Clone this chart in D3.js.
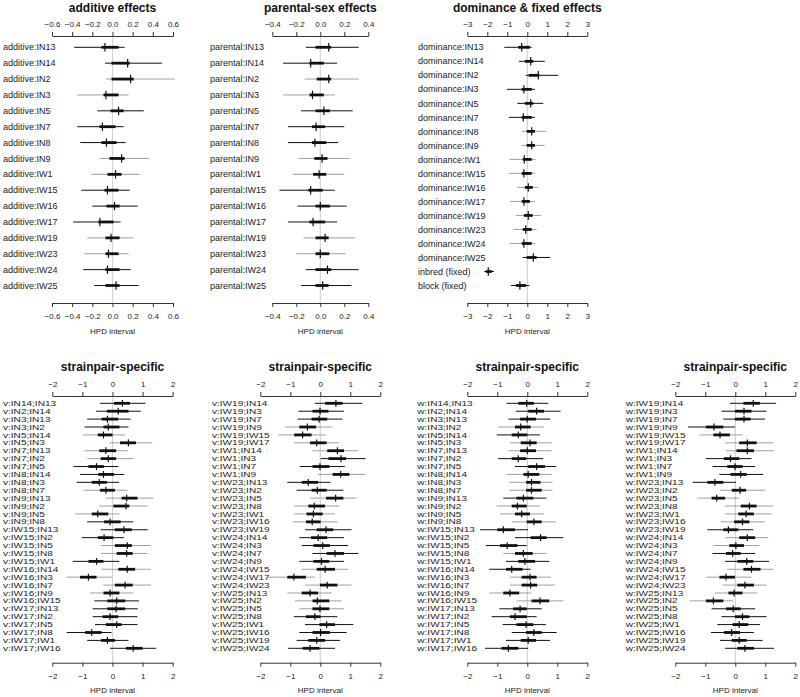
<!DOCTYPE html>
<html><head><meta charset="utf-8">
<script src="https://cdn.jsdelivr.net/npm/d3@7"></script>
<style>
html,body{margin:0;padding:0;background:#fff;}
svg{display:block;font-family:"Liberation Sans",Arial,sans-serif;}
</style></head>
<body><svg id="c" width="800" height="697"></svg>
<script>
// ---------------- DATA ----------------
// each row: [lower 95%, lower 50%, median, upper 50%, upper 95%]
const strains = ["IN13","IN14","IN2","IN3","IN5","IN7","IN8","IN9","IW1","IW15","IW16","IW17","IW19","IW23","IW24","IW25"];

const additiveRows = [
  [-0.38,-0.11,-0.075,0.06,0.12],[-0.075,-0.01,0.15,0.17,0.49],[-0.065,-0.01,0.18,0.21,0.62],
  [-0.35,-0.09,-0.065,0.06,0.16],[-0.15,-0.02,0.06,0.11,0.31],[-0.35,-0.13,-0.10,0.03,0.11],
  [-0.32,-0.11,-0.06,0.04,0.13],[-0.13,-0.03,0.09,0.12,0.36],[-0.21,-0.05,0.03,0.09,0.27],
  [-0.31,-0.08,-0.05,0.06,0.17],[-0.20,-0.06,0.02,0.07,0.25],[-0.39,-0.14,-0.125,0.01,0.08],
  [-0.25,-0.07,-0.015,0.07,0.21],[-0.28,-0.07,-0.04,0.06,0.16],[-0.29,-0.07,-0.05,0.07,0.18],
  [-0.18,-0.07,0.035,0.07,0.26]];
const additiveGrey = [0,0,1,1,0,0,0,1,1,0,0,0,1,1,0,0];

const parentalRows = [
  [-0.12,-0.04,0.07,0.09,0.32],[-0.31,-0.09,-0.08,0.03,0.14],[-0.13,-0.03,0.07,0.09,0.32],
  [-0.31,-0.09,-0.065,0.03,0.12],[-0.16,-0.04,0.03,0.08,0.27],[-0.27,-0.07,-0.035,0.04,0.20],
  [-0.27,-0.07,-0.045,0.05,0.15],[-0.18,-0.05,0.015,0.06,0.25],[-0.23,-0.06,-0.01,0.05,0.20],
  [-0.34,-0.10,-0.08,0.02,0.12],[-0.19,-0.04,0.0,0.08,0.22],[-0.27,-0.09,-0.06,0.04,0.14],
  [-0.14,-0.04,0.04,0.07,0.29],[-0.20,-0.04,0.0,0.075,0.21],[-0.12,-0.04,0.06,0.09,0.32],
  [-0.16,-0.04,0.02,0.07,0.26]];
const parentalGrey = [0,0,1,1,0,0,0,1,1,0,0,0,1,1,0,0];

const dominanceNames = strains.map(s => "dominance:" + s).concat(["inbred (fixed)","block (fixed)"]);
const dominanceRows = [
  [-1.15,-0.45,-0.28,0.13,0.22],[-0.42,-0.12,0.17,0.30,0.87],[-0.08,0.07,0.55,0.60,1.55],
  [-1.02,-0.28,-0.17,0.22,0.38],[-0.50,-0.12,0.17,0.30,0.80],[-0.92,-0.28,-0.20,0.22,0.38],
  [-0.28,-0.03,0.22,0.38,0.92],[-0.28,-0.03,0.22,0.38,0.87],[-0.90,-0.23,-0.15,0.22,0.42],
  [-0.92,-0.28,-0.17,0.22,0.38],[-0.50,-0.12,0.05,0.27,0.52],[-0.87,-0.28,-0.17,0.13,0.38],
  [-0.58,-0.17,0.05,0.27,0.68],[-0.70,-0.23,-0.08,0.22,0.47],[-0.87,-0.28,-0.17,0.22,0.40],
  [-0.23,-0.03,0.30,0.47,1.13],[-2.15,-2.07,-1.95,-1.78,-1.67],[-0.82,-0.57,-0.37,-0.07,0.10]];
const dominanceGrey = [0,0,0,0,0,0,1,1,1,1,1,1,1,1,1,0,0,0];

const pairsA = ["IN14;IN13","IN2;IN14","IN3;IN13","IN3;IN2","IN5;IN14","IN5;IN3","IN7;IN13","IN7;IN2",
  "IN7;IN5","IN8;IN14","IN8;IN3","IN8;IN7","IN9;IN13","IN9;IN2","IN9;IN5","IN9;IN8",
  "IW15;IN13","IW15;IN2","IW15;IN5","IW15;IN8","IW15;IW1","IW16;IN14","IW16;IN3","IW16;IN7",
  "IW16;IN9","IW16;IW15","IW17;IN13","IW17;IN2","IW17;IN5","IW17;IN8","IW17;IW1","IW17;IW16"];
const pairsB = ["IW19;IN14","IW19;IN3","IW19;IN7","IW19;IN9","IW19;IW15","IW19;IW17","IW1;IN14","IW1;IN3",
  "IW1;IN7","IW1;IN9","IW23;IN13","IW23;IN2","IW23;IN5","IW23;IN8","IW23;IW1","IW23;IW16",
  "IW23;IW19","IW24;IN14","IW24;IN3","IW24;IN7","IW24;IN9","IW24;IW15","IW24;IW17","IW24;IW23",
  "IW25;IN13","IW25;IN2","IW25;IN5","IW25;IN8","IW25;IW1","IW25;IW16","IW25;IW19","IW25;IW24"];

const vARows = [
  [-0.42,0.05,0.33,0.58,1.10],[-0.55,-0.19,0.19,0.53,0.94],[-0.84,-0.36,-0.17,0.19,0.60],[-0.93,-0.30,-0.14,0.23,0.53],
  [-0.99,-0.49,-0.30,0.0,0.42],[-0.10,0.25,0.53,0.78,1.32],[-0.93,-0.44,-0.22,0.12,0.50],[-0.84,-0.39,-0.14,0.12,0.69],
  [-1.30,-0.80,-0.53,-0.28,0.20],[-1.08,-0.47,-0.30,0.05,0.39],[-1.19,-0.69,-0.44,-0.19,0.22],[-0.97,-0.42,-0.22,0.08,0.50],
  [-0.22,0.30,0.47,0.83,1.36],[-0.44,0.03,0.45,0.56,1.17],[-1.25,-0.69,-0.49,-0.14,0.23],[-0.84,-0.28,-0.08,0.27,0.69],
  [-0.39,0.08,0.38,0.64,1.17],[-1.02,-0.49,-0.28,0.03,0.38],[-0.38,0.08,0.49,0.64,1.27],[-0.38,0.14,0.47,0.67,1.16],
  [-1.32,-0.80,-0.53,-0.30,0.22],[-0.36,0.19,0.49,0.75,1.27],[-1.52,-1.08,-0.80,-0.53,-0.03],[-0.30,0.08,0.42,0.67,1.28],
  [-0.75,-0.30,-0.08,0.23,0.69],[-0.60,-0.17,0.14,0.42,0.88],[-0.66,-0.17,0.12,0.42,0.84],[-0.66,-0.33,-0.08,0.19,0.83],
  [-0.58,-0.22,0.14,0.30,0.83],[-1.52,-0.91,-0.69,-0.36,-0.03],[-0.84,-0.38,-0.17,0.08,0.53],[-0.08,0.45,0.69,1.00,1.45]];
const vAGrey = [0,0,0,0,1,1,1,1,0,0,0,1,1,1,1,0,0,0,1,1,0,1,1,1,1,0,0,0,0,0,0,0];

const vBRows = [
  [-0.18,0.16,0.52,0.74,1.40],[-0.73,-0.26,-0.01,0.27,0.79],[-0.76,-0.29,-0.04,0.23,0.74],[-1.18,-0.70,-0.43,-0.14,0.38],
  [-1.40,-0.87,-0.59,-0.29,0.19],[-0.88,-0.34,-0.12,0.21,0.63],[-0.26,0.23,0.57,0.79,1.27],[0.01,0.27,0.69,0.86,1.51],
  [-0.68,-0.26,-0.01,0.30,0.82],[-0.07,0.41,0.68,0.97,1.49],[-1.10,-0.62,-0.40,-0.07,0.34],[-0.79,-0.29,-0.10,0.21,0.77],
  [-0.34,0.19,0.51,0.77,1.21],[-0.88,-0.40,-0.20,0.16,0.63],[-0.88,-0.46,-0.23,0.08,0.49],[-0.92,-0.48,-0.27,0.01,0.57],
  [-0.51,-0.12,0.19,0.43,1.04],[-0.70,-0.31,-0.07,0.23,0.79],[-0.62,-0.23,0.08,0.32,0.93],[-0.26,0.21,0.49,0.79,1.27],
  [-0.70,-0.23,0.04,0.30,0.79],[-0.62,-0.12,0.16,0.49,0.93],[-1.73,-1.10,-0.88,-0.48,-0.18],[-0.51,-0.01,0.23,0.57,1.04],
  [-1.10,-0.62,-0.34,-0.07,0.38],[-0.84,-0.26,-0.10,0.30,0.71],[-0.70,-0.26,-0.01,0.30,0.79],[-0.88,-0.48,-0.18,0.01,0.57],
  [-0.51,-0.03,0.21,0.49,1.10],[-0.70,-0.26,0.01,0.32,0.88],[-0.79,-0.40,-0.12,0.16,0.66],[-1.07,-0.59,-0.34,-0.03,0.49]];
const vBGrey = [0,0,0,1,1,1,1,0,0,1,0,0,1,1,1,1,0,0,0,0,0,1,1,1,1,1,1,0,0,0,0,0];

const wARows = [
  [-0.69,-0.30,-0.02,0.22,0.70],[-0.38,0.03,0.31,0.56,1.11],[-0.63,-0.24,0.0,0.29,0.76],[-0.97,-0.41,-0.22,0.11,0.56],
  [-1.02,-0.52,-0.30,0.0,0.42],[-0.58,-0.22,0.09,0.31,0.81],[-0.63,-0.24,0.0,0.29,0.81],[-0.97,-0.52,-0.30,-0.04,0.53],
  [-0.41,0.03,0.31,0.59,0.96],[-0.69,-0.13,0.03,0.40,0.81],[-0.60,-0.04,0.14,0.44,0.84],[-0.60,-0.04,0.14,0.48,0.84],
  [-0.80,-0.36,-0.13,0.20,0.64],[-1.02,-0.52,-0.33,-0.02,0.42],[-0.91,-0.41,-0.19,0.09,0.56],[-0.52,-0.02,0.22,0.48,0.96],
  [-1.58,-1.00,-0.80,-0.41,0.03],[-0.41,0.11,0.44,0.64,1.20],[-1.38,-0.91,-0.67,-0.33,-0.02],[-0.80,-0.41,-0.13,0.18,0.64],
  [-0.71,-0.30,-0.08,0.26,0.73],[-1.27,-0.71,-0.52,-0.16,0.11],[-0.58,-0.19,0.09,0.31,0.78],[-0.58,-0.19,0.11,0.33,0.92],
  [-1.27,-0.80,-0.58,-0.27,0.14],[-0.36,0.14,0.42,0.73,1.20],[-0.93,-0.47,-0.24,-0.02,0.48],[-1.19,-0.58,-0.41,-0.02,0.31],
  [-0.82,-0.36,-0.04,0.20,0.62],[-0.52,-0.04,0.22,0.48,0.98],[-0.71,-0.22,0.03,0.29,0.76],[-1.41,-0.86,-0.63,-0.30,0.03]];
const wAGrey = [0,0,0,1,0,1,1,0,0,1,1,1,0,1,1,1,0,0,0,1,0,0,1,1,1,1,0,0,0,0,0,0];

const wBRows = [
  [-0.18,0.27,0.60,0.82,1.36],[-0.46,-0.01,0.29,0.54,1.04],[-0.40,-0.01,0.29,0.51,0.99],[-1.57,-0.98,-0.71,-0.40,-0.01],
  [-1.20,-0.73,-0.51,-0.18,0.24],[-0.34,0.13,0.40,0.71,1.27],[-0.31,0.04,0.40,0.62,1.29],[-0.98,-0.38,-0.16,0.13,0.54],
  [-0.76,-0.27,-0.01,0.24,0.66],[-0.53,-0.16,0.18,0.38,0.93],[-1.42,-0.93,-0.68,-0.40,0.02],[-0.51,-0.12,0.16,0.36,0.99],
  [-1.27,-0.79,-0.62,-0.34,0.13],[-0.34,0.18,0.47,0.71,1.27],[-0.34,0.10,0.36,0.62,1.21],[-0.49,-0.04,0.24,0.47,0.99],
  [-0.93,-0.40,-0.23,0.10,0.60],[-0.34,0.13,0.40,0.66,1.10],[-0.73,-0.20,0.02,0.29,0.80],[-0.76,-0.31,-0.09,0.18,0.66],
  [-0.34,0.07,0.38,0.60,1.13],[-0.27,0.27,0.54,0.84,1.27],[-0.96,-0.53,-0.31,-0.01,0.54],[-0.42,0.07,0.32,0.62,1.04],
  [-0.68,-0.23,-0.04,0.24,0.73],[-1.53,-0.98,-0.73,-0.40,-0.07],[-0.79,-0.31,-0.07,0.18,0.66],[-0.46,-0.01,0.24,0.47,1.04],
  [-0.60,-0.09,0.13,0.43,0.82],[-0.81,-0.38,-0.12,0.16,0.62],[-0.51,-0.12,0.13,0.38,0.91],[-0.34,0.07,0.32,0.62,1.29]];
const wBGrey = [0,0,0,0,1,1,1,0,0,0,0,1,1,1,1,1,0,1,1,0,0,1,1,1,1,1,0,0,0,0,0,0];

const ticksAdd = [-0.6,-0.4,-0.2,0,0.2,0.4,0.6];
const ticksPar = [-0.4,-0.2,0,0.2,0.4];
const ticksDom = [-3,-2,-1,0,1,2,3];
const ticksPair = [-2,-1,0,1,2];

// ---------------- DRAW ----------------
const svg = d3.select("#c");
const FONT = "'Liberation Sans', Arial, sans-serif";
const GREY = "#a0a0a0";

const topRow = {axTop:36, axBot:303, yr:[47.3,285.5], titleY:12, hpdY:334, lblFont:9, lblScale:1, tickH:4.2, padTop:5.5, padBot:6.3};
const botRow = {axTop:396, axBot:662.7, yr:[403.3,648.3], titleY:370.5, hpdY:693, lblFont:7.4, lblScale:1.36, tickH:3.4, padTop:5.5, padBot:6.3};

function panel(o, L) {
  const g = svg.append("g");
  const x = d3.scaleLinear().domain(o.domain).range(o.range);
  const y = d3.scalePoint().domain(o.names).range(L.yr);

  g.append("line").attr("x1", x(0)).attr("x2", x(0)).attr("y1", L.axTop).attr("y2", L.axBot)
    .attr("stroke", "#d2d2d2").attr("stroke-width", 1.2);

  const styleAxis = sel => {
    sel.attr("font-family", FONT).attr("font-size", 8);
    sel.select(".domain").attr("stroke", "#333");
    sel.selectAll(".tick line").attr("stroke", "#333");
    sel.selectAll(".tick text").attr("fill", "#222");
  };
  g.append("g").attr("transform", `translate(0,${L.axTop})`)
    .call(d3.axisTop(x).tickValues(o.ticks).tickFormat(o.fmt).tickSize(4).tickSizeOuter(0).tickPadding(L.padTop))
    .call(styleAxis);
  g.append("g").attr("transform", `translate(0,${L.axBot})`)
    .call(d3.axisBottom(x).tickValues(o.ticks).tickFormat(o.fmt).tickSize(4).tickSizeOuter(0).tickPadding(L.padBot))
    .call(styleAxis);

  const cx = (o.range[0] + o.range[1]) / 2;
  g.append("text").attr("x", cx).attr("y", L.titleY).attr("text-anchor", "middle")
    .attr("font-family", FONT).attr("font-weight", "bold").attr("font-size", 12).attr("fill", "#111").text(o.title);
  g.append("text").attr("x", cx).attr("y", L.hpdY).attr("text-anchor", "middle")
    .attr("font-family", FONT).attr("font-size", 8).attr("fill", "#222").text("HPD interval");

  g.selectAll("text.lbl").data(o.names).enter().append("text").attr("class", "lbl")
    .attr("transform", d => `translate(${o.labelX},${y(d)}) scale(${L.lblScale},1)`)
    .attr("dy", "0.35em")
    .attr("font-family", FONT).attr("font-size", L.lblFont).attr("fill", "#222").text(d => d);

  const rows = o.rows.map((r, i) => ({name: o.names[i], r, grey: o.grey[i]}));
  const rg = g.selectAll("g.row").data(rows).enter().append("g").attr("class", "row");
  rg.append("line").attr("x1", d => x(d.r[0])).attr("x2", d => x(d.r[4]))
    .attr("y1", d => y(d.name)).attr("y2", d => y(d.name))
    .attr("stroke", d => d.grey ? GREY : "#111").attr("stroke-width", 1);
  rg.append("line").attr("x1", d => x(d.r[1])).attr("x2", d => x(d.r[3]))
    .attr("y1", d => y(d.name)).attr("y2", d => y(d.name))
    .attr("stroke", "#111").attr("stroke-width", 2.8);
  rg.append("line").attr("x1", d => x(d.r[2])).attr("x2", d => x(d.r[2]))
    .attr("y1", d => y(d.name) - L.tickH).attr("y2", d => y(d.name) + L.tickH)
    .attr("stroke", "#111").attr("stroke-width", 1.2);
}

const f1 = d3.format(".1f");
const fInt = d3.format("d");

panel({title:"additive effects", names: strains.map(s => "additive:" + s), rows: additiveRows, grey: additiveGrey,
  domain:[-0.6,0.6], range:[52,173], ticks: ticksAdd, fmt: f1, labelX: 3}, topRow);
panel({title:"parental-sex effects", names: strains.map(s => "parental:" + s), rows: parentalRows, grey: parentalGrey,
  domain:[-0.4,0.4], range:[272.3,368.3], ticks: ticksPar, fmt: f1, labelX: 210}, topRow);
panel({title:"dominance & fixed effects", names: dominanceNames, rows: dominanceRows, grey: dominanceGrey,
  domain:[-3,3], range:[467.3,587.3], ticks: ticksDom, fmt: fInt, labelX: 418}, topRow);

panel({title:"strainpair-specific", names: pairsA.map(p => "v:" + p), rows: vARows, grey: vAGrey,
  domain:[-2,2], range:[52.3,172.7], ticks: ticksPair, fmt: fInt, labelX: 3}, botRow);
panel({title:"strainpair-specific", names: pairsB.map(p => "v:" + p), rows: vBRows, grey: vBGrey,
  domain:[-2,2], range:[260.3,380.3], ticks: ticksPair, fmt: fInt, labelX: 212}, botRow);
panel({title:"strainpair-specific", names: pairsA.map(p => "w:" + p), rows: wARows, grey: wAGrey,
  domain:[-2,2], range:[467.3,587.3], ticks: ticksPair, fmt: fInt, labelX: 417.3}, botRow);
panel({title:"strainpair-specific", names: pairsB.map(p => "w:" + p), rows: wBRows, grey: wBGrey,
  domain:[-2,2], range:[675.3,795.3], ticks: ticksPair, fmt: fInt, labelX: 625.7}, botRow);
</script></body></html>
